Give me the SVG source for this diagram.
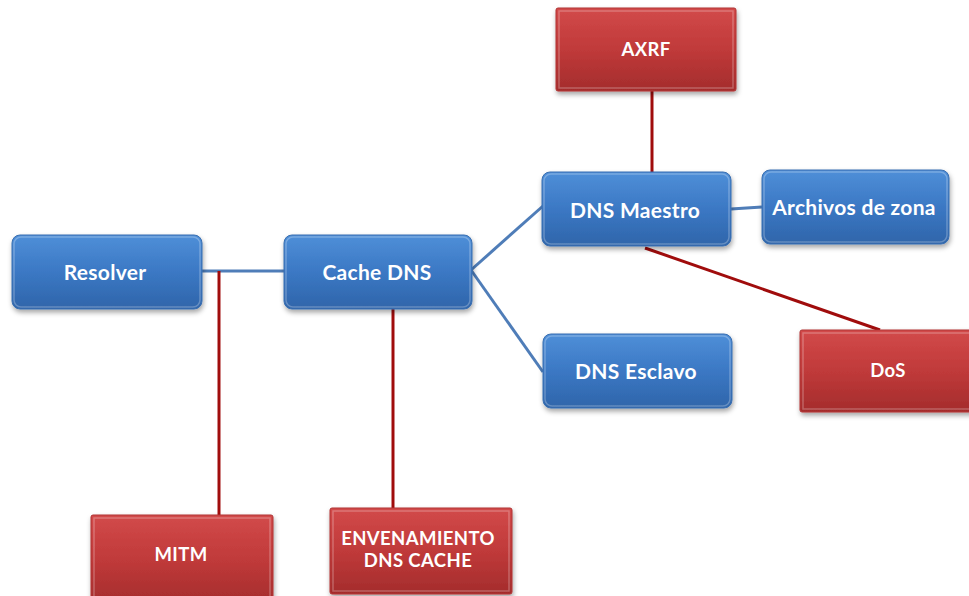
<svg xmlns="http://www.w3.org/2000/svg" width="969" height="596" viewBox="0 0 969 596">
  <defs>
    <linearGradient id="gBlue" x1="0" y1="0" x2="0" y2="1">
      <stop offset="0" stop-color="#4f8fd8"/>
      <stop offset="0.5" stop-color="#3b78c4"/>
      <stop offset="1" stop-color="#2f65aa"/>
    </linearGradient>
    <linearGradient id="gRed" x1="0" y1="0" x2="0" y2="1">
      <stop offset="0" stop-color="#d24a4a"/>
      <stop offset="0.5" stop-color="#c03a3a"/>
      <stop offset="1" stop-color="#a42c2c"/>
    </linearGradient>
    <filter id="shadow" x="-10%" y="-10%" width="125%" height="135%">
      <feDropShadow dx="1" dy="3" stdDeviation="2.5" flood-color="#000" flood-opacity="0.35"/>
    </filter>
  </defs>
  <style>
    .blue { fill: url(#gBlue); stroke: #3a6fb0; stroke-width: 1; filter: url(#shadow); }
    .red { fill: url(#gRed); stroke: #b03434; stroke-width: 1; filter: url(#shadow); }
    .hl { fill: none; stroke: #ffffff; stroke-opacity: 0.25; stroke-width: 1.5; }
    .lbl { font-family: Lato, "Open Sans", "Liberation Sans", sans-serif; font-weight: bold; font-size: 21px; fill: #ffffff; text-anchor: middle; dominant-baseline: central; letter-spacing: 0.3px; }
    .lr { font-size: 18.5px; letter-spacing: 0.4px; }
    .cb { stroke: #4f7db8; stroke-width: 3; fill: none; }
    .cr { stroke: #a00c0c; stroke-width: 3; fill: none; }
  </style>

  <rect width="969" height="596" fill="#ffffff"/>

  <g id="connectors">
    <line class="cb" x1="202" y1="271" x2="284" y2="271"/>
    <line class="cr" x1="219" y1="271" x2="219" y2="515"/>
    <line class="cr" x1="393" y1="309" x2="393" y2="508"/>
    <line class="cb" x1="471" y1="270" x2="543" y2="206"/>
    <line class="cb" x1="471" y1="270" x2="543" y2="372"/>
    <line class="cb" x1="731" y1="209" x2="762" y2="207"/>
    <line class="cr" x1="652" y1="91" x2="652" y2="172"/>
    <line class="cr" x1="645" y1="248" x2="880" y2="330"/>
  </g>

  <g id="resolver">
    <rect class="blue" x="12" y="235" width="190" height="74" rx="8"/>
    <rect class="hl" x="14" y="237" width="186" height="70" rx="7"/>
    <text class="lbl" x="105" y="271">Resolver</text>
  </g>

  <g id="cache-dns">
    <rect class="blue" x="284" y="235" width="188" height="74" rx="8"/>
    <rect class="hl" x="286" y="237" width="184" height="70" rx="7"/>
    <text class="lbl" x="377" y="271">Cache DNS</text>
  </g>

  <g id="dns-maestro">
    <rect class="blue" x="542" y="172" width="189" height="74" rx="8"/>
    <rect class="hl" x="544" y="174" width="185" height="70" rx="7"/>
    <text class="lbl" x="635" y="209">DNS Maestro</text>
  </g>

  <g id="archivos-zona">
    <rect class="blue" x="762" y="170" width="187" height="74" rx="8"/>
    <rect class="hl" x="764" y="172" width="183" height="70" rx="7"/>
    <text class="lbl" x="854" y="206">Archivos de zona</text>
  </g>

  <g id="dns-esclavo">
    <rect class="blue" x="543" y="334" width="189" height="74" rx="8"/>
    <rect class="hl" x="545" y="336" width="185" height="70" rx="7"/>
    <text class="lbl" x="636" y="370">DNS Esclavo</text>
  </g>

  <g id="axrf">
    <rect class="red" x="556" y="8" width="180" height="83" rx="2"/>
    <rect class="hl" x="559" y="11" width="174" height="77"/>
    <text class="lbl lr" x="646" y="49">AXRF</text>
  </g>

  <g id="dos">
    <rect class="red" x="800" y="330" width="180" height="82" rx="2"/>
    <rect class="hl" x="803" y="333" width="174" height="76"/>
    <text class="lbl lr" x="888" y="370" letter-spacing="1.5">DoS</text>
  </g>

  <g id="envenenamiento">
    <rect class="red" x="330" y="508" width="182" height="86" rx="2"/>
    <rect class="hl" x="333" y="511" width="176" height="80"/>
    <text class="lbl lr" x="418" y="538">ENVENAMIENTO</text>
    <text class="lbl lr" x="418" y="560">DNS CACHE</text>
  </g>

  <g id="mitm">
    <rect class="red" x="91" y="515" width="182" height="90" rx="2"/>
    <rect class="hl" x="94" y="518" width="176" height="84"/>
    <text class="lbl lr" x="181" y="554">MITM</text>
  </g>
</svg>
